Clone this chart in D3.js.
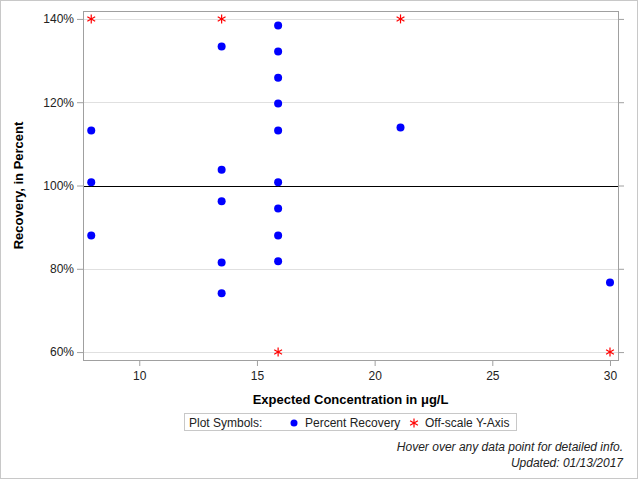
<!DOCTYPE html>
<html>
<head>
<meta charset="utf-8">
<script src="https://cdn.jsdelivr.net/npm/d3@7"></script>
<style>
  body { margin: 0; background: #fff; }
  svg { font-family: "Liberation Sans", Arial, sans-serif; }
</style>
</head>
<body>
<div id="chart"></div>
<script>
// measured recovery points
const recoveryX = [7.96, 7.96, 7.96,
  13.5, 13.5, 13.5, 13.5, 13.5,
  15.9, 15.9, 15.9, 15.9, 15.9, 15.9, 15.9, 15.9, 15.9,
  21.1, 30];
const recoveryY = [113.2, 100.8, 88.0,
  133.4, 103.8, 96.2, 81.5, 74.1,
  138.4, 132.2, 125.9, 119.7, 113.2, 100.8, 94.5, 88.0, 81.8,
  113.9, 76.7];

// off-scale points, drawn at the axis limit
const offX = [7.96, 13.5, 21.1, 15.9, 30];
const offY = [140, 140, 140, 60, 60];

const xTicks = [10, 15, 20, 25, 30];
const yTicks = [60, 80, 100, 120, 140];

const width = 640, height = 480;
const margin = {top: 11, right: 22, bottom: 120, left: 83};

const svg = d3.select("#chart").append("svg")
  .attr("width", width).attr("height", height);

// outer frame
svg.append("rect")
  .attr("x", 0.5).attr("y", 0.5)
  .attr("width", 637).attr("height", 478)
  .attr("fill", "none").attr("stroke", "#c8c8c8");

const x = d3.scaleLinear().domain([7.61, 30.34]).range([margin.left, width - margin.right]);
const y = d3.scaleLinear().domain([58.1, 141.9]).range([height - margin.bottom, margin.top]);

const x0 = margin.left, x1 = width - margin.right;
const y0 = height - margin.bottom, y1 = margin.top;

// grid
svg.append("g").selectAll("line")
  .data(yTicks)
  .join("line")
    .attr("x1", x0).attr("x2", x1)
    .attr("y1", d => Math.round(y(d)) + 0.5).attr("y2", d => Math.round(y(d)) + 0.5)
    .attr("stroke", "#e0e0e0");

// reference line at 100%
svg.append("line")
  .attr("x1", x0).attr("x2", x1)
  .attr("y1", Math.round(y(100)) + 0.5).attr("y2", Math.round(y(100)) + 0.5)
  .attr("stroke", "#000");

// axes
const axisStyle = g => {
  g.select(".domain").remove();
  g.selectAll(".tick line").attr("stroke", "#a0a0a0");
  g.selectAll(".tick text").attr("fill", "#222").style("font-size", "12px");
};

svg.append("g")
  .attr("transform", `translate(0,${y0})`)
  .call(d3.axisBottom(x).tickValues(xTicks).tickSize(6).tickPadding(5))
  .call(axisStyle);

svg.append("g")
  .attr("transform", `translate(${x0},0)`)
  .call(d3.axisLeft(y).tickValues(yTicks).tickSize(6).tickPadding(3).tickFormat(d => d + "%"))
  .call(axisStyle);

svg.append("g")
  .attr("transform", `translate(${x1},0)`)
  .call(d3.axisRight(y).tickValues(yTicks).tickSize(6).tickFormat(""))
  .call(axisStyle);

// plot frame
svg.append("rect")
  .attr("x", x0 + 0.5).attr("y", y1 + 0.5)
  .attr("width", x1 - x0).attr("height", y0 - y1)
  .attr("fill", "none").attr("stroke", "#a0a0a0");

// points
svg.append("g").selectAll("circle")
  .data(recoveryX.map((d, i) => [d, recoveryY[i]]))
  .join("circle")
    .attr("cx", d => x(d[0]))
    .attr("cy", d => y(d[1]))
    .attr("r", 4)
    .attr("fill", "#0000ff");

const star = d3.symbol().type(d3.symbolAsterisk);
function drawStar(g, cx, cy) {
  const s = 4.5;
  const p = g.append("g").attr("transform", `translate(${cx},${cy})`)
    .attr("stroke", "#ff0000").attr("stroke-width", 1.2);
  p.append("line").attr("x1", 0).attr("x2", 0).attr("y1", -s).attr("y2", s);
  p.append("line").attr("x1", -s * 0.87).attr("x2", s * 0.87).attr("y1", -s * 0.5).attr("y2", s * 0.5);
  p.append("line").attr("x1", -s * 0.87).attr("x2", s * 0.87).attr("y1", s * 0.5).attr("y2", -s * 0.5);
}
const offG = svg.append("g");
offX.forEach((d, i) => drawStar(offG, x(d), y(offY[i])));

// axis labels
svg.append("text")
  .attr("x", (x0 + x1) / 2).attr("y", 404)
  .attr("text-anchor", "middle")
  .style("font-size", "13px").style("font-weight", "bold")
  .text("Expected Concentration in μg/L");

svg.append("text")
  .attr("transform", `translate(23,${(y0 + y1) / 2}) rotate(-90)`)
  .attr("text-anchor", "middle")
  .style("font-size", "13px").style("font-weight", "bold")
  .text("Recovery, in Percent");

// legend
const legend = svg.append("g");
legend.append("rect")
  .attr("x", 184.5).attr("y", 413.5).attr("width", 332).attr("height", 17)
  .attr("fill", "#fff").attr("stroke", "#c8c8c8");
legend.append("text").attr("x", 189).attr("y", 427)
  .style("font-size", "12px").attr("fill", "#222").text("Plot Symbols:");
legend.append("circle").attr("cx", 294).attr("cy", 423).attr("r", 3.5).attr("fill", "#0000ff");
legend.append("text").attr("x", 305).attr("y", 427)
  .style("font-size", "12px").attr("fill", "#222").text("Percent Recovery");
drawStar(legend, 414, 423);
legend.append("text").attr("x", 425).attr("y", 427)
  .style("font-size", "12px").attr("fill", "#222").text("Off-scale Y-Axis");

// notes
svg.append("text").attr("x", 623).attr("y", 451)
  .attr("text-anchor", "end").style("font-size", "12px").style("font-style", "italic")
  .attr("fill", "#222").text("Hover over any data point for detailed info.");
svg.append("text").attr("x", 623).attr("y", 467)
  .attr("text-anchor", "end").style("font-size", "12px").style("font-style", "italic")
  .attr("fill", "#222").text("Updated: 01/13/2017");
</script>
</body>
</html>
